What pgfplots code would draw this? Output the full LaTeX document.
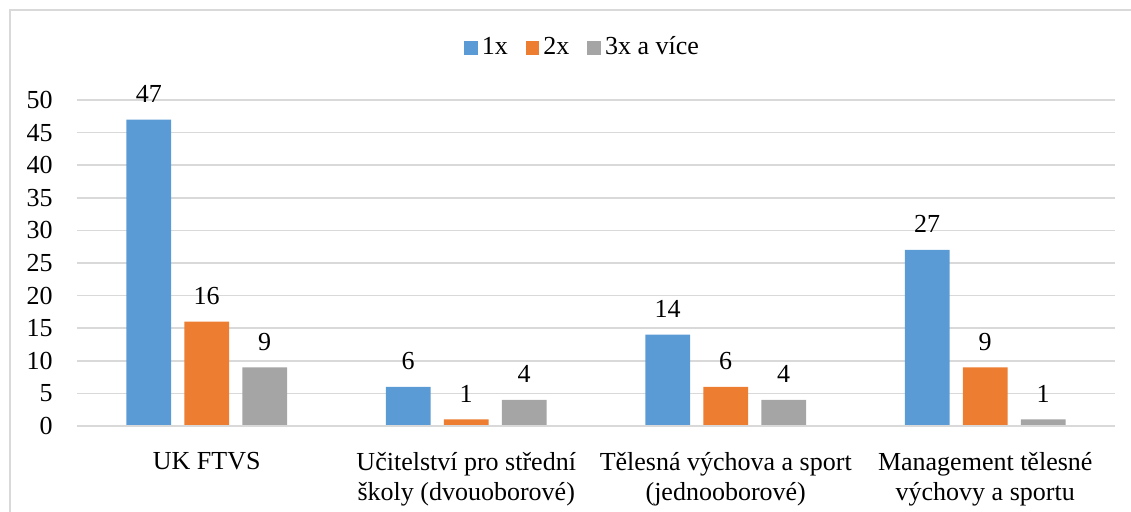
\documentclass[border=0pt]{standalone}
\usepackage{fontspec}
\setmainfont{Liberation Serif}
\newfontfamily\tms{Liberation Serif}
\usepackage{pgfplots}
\pgfplotsset{compat=1.18}
\definecolor{cblue}{HTML}{5B9BD5}
\definecolor{corange}{HTML}{ED7D31}
\definecolor{cgray}{HTML}{A5A5A5}
\definecolor{cgrid}{HTML}{D9D9D9}
\begin{document}
\tms\fontsize{13}{15}\selectfont
\begin{tikzpicture}[font=\tms\fontsize{13}{15}\selectfont]
  % 1 px of the reference = 0.5pt
  \useasboundingbox (0,0) rectangle (565.5pt,255.5pt);
  \draw[cgrid, line width=0.75pt] (5pt,-5pt) -- (5pt,250.5pt) -- (570pt,250.5pt);
  \begin{axis}[
      at={(38.5pt,42.5pt)}, anchor=south west,
      scale only axis,
      width=519pt, height=163pt,
      ybar,
      bar width=0.173,
      xmin=-0.5, xmax=3.5,
      ymin=0, ymax=50,
      ytick={0,5,...,50},
      xtick={0,1,2,3},
      xticklabels={UK FTVS,
        Učitelství pro střední\\ školy (dvouoborové),
        Tělesná výchova a sport\\ (jednooborové),
        Management tělesné\\ výchovy a sportu},
      axis line style={draw=none},
      major tick length=0pt,
      ymajorgrids,
      grid style={cgrid, line width=0.75pt},
      /pgf/number format/assume math mode=true,
      tick label style={font=\tms\fontsize{13}{15}\selectfont},
      yticklabel style={anchor=east, inner sep=0pt, xshift=-12pt},
      xticklabel style={align=center, anchor=north, inner sep=0pt, yshift=-13pt},
      nodes near coords,
      nodes near coords style={font=\tms\fontsize{13}{15}\selectfont, anchor=base, inner sep=0pt, yshift=8.5pt},
      legend columns=3,
      legend style={draw=none, at={(axis description cs:0.488,1.16)}, anchor=center,
        font=\tms\fontsize{13}{15}\selectfont,
        /tikz/every even column/.append style={column sep=7pt}},
      legend image code/.code={\fill[#1] (0pt,-3.4pt) rectangle (6.8pt,3.4pt);},
    ]
    \addplot[fill=cblue, draw=none, bar shift=-0.2235]
      coordinates {(0,47) (1,6) (2,14) (3,27)};
    \addlegendentry{1x}
    \addplot[fill=corange, draw=none, bar shift=0]
      coordinates {(0,16) (1,1) (2,6) (3,9)};
    \addlegendentry{2x}
    \addplot[fill=cgray, draw=none, bar shift=0.2235]
      coordinates {(0,9) (1,4) (2,4) (3,1)};
    \addlegendentry{3x a více}
    \draw[cgrid, line width=1pt] (axis cs:-0.5,0) -- (axis cs:3.5,0);
  \end{axis}
\end{tikzpicture}
\end{document}
